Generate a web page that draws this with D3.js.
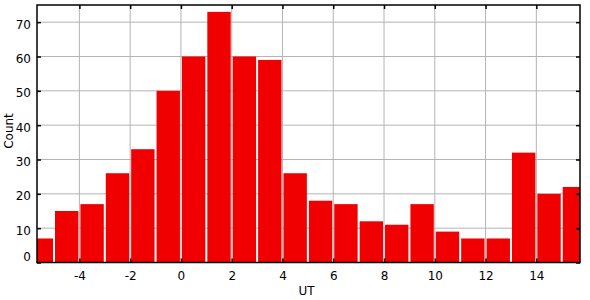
<!DOCTYPE html>
<html>
<head>
<meta charset="utf-8">
<script src="https://cdn.jsdelivr.net/npm/d3@7"></script>
<style>
  body { margin: 0; background: white; }
  text { font-family: "DejaVu Sans", sans-serif; }
</style>
</head>
<body>
<div id="chart"></div>
<script>
// UT hour bins (start of each bin) and the counts in them
var binStarts = [-6, -5, -4, -3, -2, -1, 0, 1, 2, 3, 4, 5, 6, 7, 8, 9, 10, 11, 12, 13, 14, 15];
var counts = [7, 15, 17, 26, 33, 50, 60, 73, 60, 59, 26, 18, 17, 12, 11, 17, 9, 7, 7, 32, 20, 22];
var xTicks = [-4, -2, 0, 2, 4, 6, 8, 10, 12, 14];
var yTicks = [0, 10, 20, 30, 40, 50, 60, 70];

var margin = {top: 5, right: 10, bottom: 37.5, left: 37},
    width = 590 - margin.left - margin.right,
    height = 300 - margin.top - margin.bottom;

var svg = d3.select("#chart")
    .append("svg")
        .attr("width", 590)
        .attr("height", 300)
    .append("g")
        .attr("transform", "translate(" + margin.left + "," + margin.top + ")");

var x = d3.scaleLinear().domain([-5.67, 15.72]).range([0, width]);
var y = d3.scaleLinear().domain([0, 75]).range([height, 0]);

svg.append("clipPath").attr("id", "clip")
    .append("rect").attr("width", width).attr("height", height);

// grid
svg.append("g").selectAll("line").data(xTicks).enter().append("line")
    .attr("x1", d => x(d)).attr("x2", d => x(d))
    .attr("y1", 0).attr("y2", height)
    .attr("stroke", "#b4b4b4");
svg.append("g").selectAll("line").data(yTicks).enter().append("line")
    .attr("x1", 0).attr("x2", width)
    .attr("y1", d => y(d)).attr("y2", d => y(d))
    .attr("stroke", "#b4b4b4");

// bars
svg.append("g").attr("clip-path", "url(#clip)")
    .selectAll("rect")
    .data(binStarts.map((b, i) => ({start: b, count: counts[i]})))
    .enter().append("rect")
    .attr("x", d => x(d.start) + 1)
    .attr("width", d => x(d.start + 1) - x(d.start) - 2)
    .attr("y", d => y(d.count))
    .attr("height", d => height - y(d.count))
    .attr("fill", "#f00000");

// axes with inward ticks
svg.append("g")
    .attr("transform", "translate(0," + height + ")")
    .call(d3.axisBottom(x).tickValues(xTicks).tickSize(-4).tickPadding(9).tickFormat(d => String(d)));
svg.append("g")
    .call(d3.axisTop(x).tickValues(xTicks).tickSize(-4).tickFormat(""));
var yAxis = svg.append("g")
    .call(d3.axisLeft(y).tickValues(yTicks).tickSize(-4).tickPadding(6).tickFormat(d => String(d)));
svg.append("g")
    .attr("transform", "translate(" + width + ",0)")
    .call(d3.axisRight(y).tickValues(yTicks).tickSize(-4).tickFormat(""));

svg.selectAll(".domain").remove();
svg.selectAll(".tick line").attr("stroke", "black").attr("stroke-width", 1.5);
svg.selectAll(".tick text").style("font-size", "12px").attr("fill", "black")
    .style("font-family", "'DejaVu Sans', sans-serif");
yAxis.selectAll(".tick text").attr("dy", d => d === 0 ? "-0.15em" : "0.5em");

// frame
svg.append("rect")
    .attr("width", width).attr("height", height)
    .attr("fill", "none").attr("stroke", "black").attr("stroke-width", 1.5);

// labels
svg.append("text")
    .attr("x", x(4.95))
    .attr("y", height + 32)
    .attr("text-anchor", "middle")
    .style("font-size", "12px")
    .text("UT");

svg.append("text")
    .attr("transform", "rotate(-90)")
    .attr("x", -126)
    .attr("y", -24)
    .attr("text-anchor", "middle")
    .style("font-size", "12px")
    .text("Count");
</script>
</body>
</html>
